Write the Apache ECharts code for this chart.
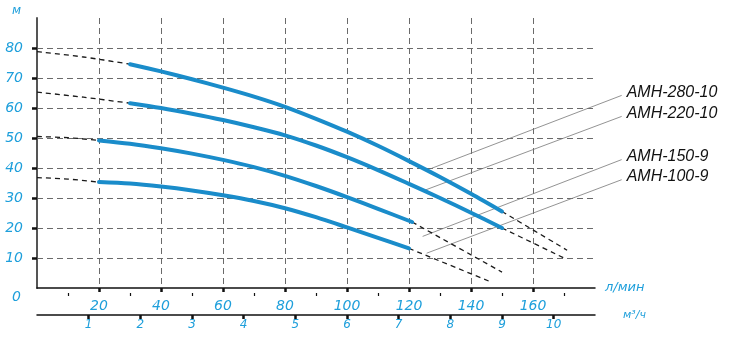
<!DOCTYPE html>
<html>
<head>
<meta charset="utf-8">
<script src="https://cdn.jsdelivr.net/npm/echarts@6/dist/echarts.min.js"></script>
<style>html,body{margin:0;padding:0;background:#fff}#c{width:730px;height:341px}</style>
</head>
<body>
<div id="c"></div>
<script>
// ---- data (flow in l/min, head in m) ----
const models = ['АМН-280-10', 'АМН-220-10', 'АМН-150-9', 'АМН-100-9'];

const q280 = [30, 40, 50, 60, 70, 80, 90, 100, 110, 120, 130, 140, 150];
const h280 = [74.6, 72.2, 69.6, 66.8, 63.8, 60.4, 56.4, 52.1, 47.4, 42.3, 37.0, 31.4, 25.5];
const q280L = [0, 15, 30];      const h280L = [78.8, 77.0, 74.6];
const q280R = [150, 171];       const h280R = [25.5, 12.6];

const q220 = [30, 40, 50, 60, 70, 80, 90, 100, 110, 120, 130, 140, 150];
const h220 = [61.6, 60.0, 58.1, 56.0, 53.6, 50.9, 47.5, 43.6, 39.3, 34.7, 30.0, 25.1, 20.0];
const q220L = [0, 15, 30];      const h220L = [65.3, 63.6, 61.6];
const q220R = [150, 170];       const h220R = [20.0, 10.0];

const q150 = [20, 30, 40, 50, 60, 70, 80, 90, 100, 110, 121];
const h150 = [49.2, 48.1, 46.6, 44.8, 42.7, 40.3, 37.4, 34.0, 30.3, 26.4, 22.0];
const q150L = [0, 10, 20];      const h150L = [50.5, 50.1, 49.2];
const q150R = [121, 150];       const h150R = [22.0, 5.3];

const q100 = [20, 30, 40, 50, 60, 70, 80, 90, 100, 110, 120];
const h100 = [35.3, 34.8, 33.8, 32.5, 30.9, 29.0, 26.6, 23.6, 20.2, 16.7, 13.2];
const q100L = [0, 10, 20];      const h100L = [36.8, 36.3, 35.3];
const q100R = [120, 146];       const h100R = [13.2, 2.2];

// leader lines: from curve point to label anchor (data units)
const leaderFromQ = [127.3, 125.1, 124.4, 125.7];
const leaderFromH = [39.9, 32.6, 17.2, 11.6];
const leaderToQ = [188.6, 188.6, 188.6, 188.6];
const leaderToH = [64.2, 57.2, 42.8, 36.1];

// axis ticks / labels
const yTicks = [10, 20, 30, 40, 50, 60, 70, 80];
const xTicksLmin = [20, 40, 60, 80, 100, 120, 140, 160];
const xMinorLmin = [10, 30, 50, 70, 90, 110, 130, 150, 170];
const xTicksM3h = [1, 2, 3, 4, 5, 6, 7, 8, 9, 10];

const BLUE_TXT = '#1e9fdb';
const BLUE_LINE = '#1a8cca';
const zip = (a, b) => a.map((v, i) => [v, b[i]]);

const solid = [[q280, h280], [q220, h220], [q150, h150], [q100, h100]];
const dashL = [[q280L, h280L], [q220L, h220L], [q150L, h150L], [q100L, h100L]];
const dashR = [[q280R, h280R], [q220R, h220R], [q150R, h150R], [q100R, h100R]];

const series = [];
dashL.concat(dashR).forEach(([q, h]) => {
  series.push({
    type: 'line', data: zip(q, h), symbol: 'none', smooth: 0.3, silent: true,
    lineStyle: { color: '#1a1a1a', width: 1.3, type: [5, 4] }, z: 3
  });
});
solid.forEach(([q, h], i) => {
  series.push({
    name: models[i], type: 'line', data: zip(q, h), symbol: 'none', smooth: 0.3, silent: true,
    lineStyle: { color: BLUE_LINE, width: 4, cap: 'round' }, z: 4
  });
});

const chart = echarts.init(document.getElementById('c'), null, { renderer: 'canvas' });
chart.setOption({
  animation: false,
  backgroundColor: '#fff',
  grid: { left: 37, right: 135, top: 18, bottom: 53 },
  xAxis: [
    {
      type: 'value', min: 0, max: 180, interval: 10, position: 'bottom', offset: 8,
      name: 'л/мин', nameLocation: 'end', nameGap: 10,
      nameTextStyle: { color: BLUE_TXT, fontSize: 13, fontStyle: 'italic', fontFamily: 'DejaVu Sans' },
      axisLine: { show: true, lineStyle: { color: '#111', width: 1.5 } },
      axisTick: { show: true, customValues: xTicksLmin, length: 4, lineStyle: { color: '#111', width: 2.5 } },
      axisLabel: { show: true, customValues: xTicksLmin, margin: 3, color: BLUE_TXT, fontSize: 14, fontStyle: 'italic', fontFamily: 'DejaVu Sans' },
      splitLine: { show: true, lineStyle: { color: '#6a6a6a', width: 1, type: [6, 4] } }
    },
    {
      type: 'value', min: 0, max: 10.8, interval: 1, position: 'bottom', offset: 27,
      name: 'м³/ч', nameLocation: 'end', nameGap: 28,
      nameTextStyle: { color: BLUE_TXT, fontSize: 11, fontStyle: 'italic', fontFamily: 'DejaVu Sans' },
      axisLine: { show: true, lineStyle: { color: '#111', width: 1.5 } },
      axisTick: { show: true, customValues: xTicksM3h, length: 4, lineStyle: { color: '#111', width: 2.5 } },
      axisLabel: { show: true, customValues: xTicksM3h, margin: 4, color: BLUE_TXT, fontSize: 12, fontStyle: 'italic', fontFamily: 'DejaVu Sans' },
      splitLine: { show: false }
    },
    {
      type: 'value', min: 0, max: 180, interval: 10, position: 'bottom', offset: 8,
      axisLine: { show: false },
      axisTick: { show: true, inside: true, customValues: xMinorLmin, length: 3, lineStyle: { color: '#111', width: 1.2 } },
      axisLabel: { show: false },
      splitLine: { show: false }
    }
  ],
  yAxis: {
    type: 'value', min: 0, max: 90, interval: 5, position: 'left', offset: 9,
    axisLine: { show: true, lineStyle: { color: '#555', width: 2 } },
    axisTick: { show: true, customValues: yTicks, length: 5, lineStyle: { color: '#111', width: 2.5 } },
    axisLabel: { show: true, customValues: yTicks, margin: 5, color: BLUE_TXT, fontSize: 14, fontStyle: 'italic', fontFamily: 'DejaVu Sans' },
    splitLine: { show: true, lineStyle: { color: '#6a6a6a', width: 1, type: [6, 4] } }
  },
  series: series
});

// leader lines and model labels, positioned through the chart's own scales
const graphics = [
  { type: 'text', left: 12, top: 5, style: { text: 'м', fill: BLUE_TXT, font: 'italic 12px "DejaVu Sans"' } },
  { type: 'text', left: 12, top: 290, style: { text: '0', fill: BLUE_TXT, font: 'italic 14px "DejaVu Sans"' } }
];
models.forEach((m, i) => {
  const p1 = chart.convertToPixel({ gridIndex: 0 }, [leaderFromQ[i], leaderFromH[i]]);
  const p2 = chart.convertToPixel({ gridIndex: 0 }, [leaderToQ[i], leaderToH[i]]);
  graphics.push({
    type: 'line', silent: true, z: 2,
    shape: { x1: p1[0], y1: p1[1], x2: p2[0], y2: p2[1] },
    style: { stroke: '#777', lineWidth: 0.8 }
  });
  graphics.push({
    type: 'text', silent: true, z: 5, x: p2[0] + 5, y: p2[1] - 3,
    style: { text: m, fill: '#111', font: 'italic 16px "Liberation Sans"', textVerticalAlign: 'middle', verticalAlign: 'middle' }
  });
});
chart.setOption({ graphic: graphics });
</script>
</body>
</html>
